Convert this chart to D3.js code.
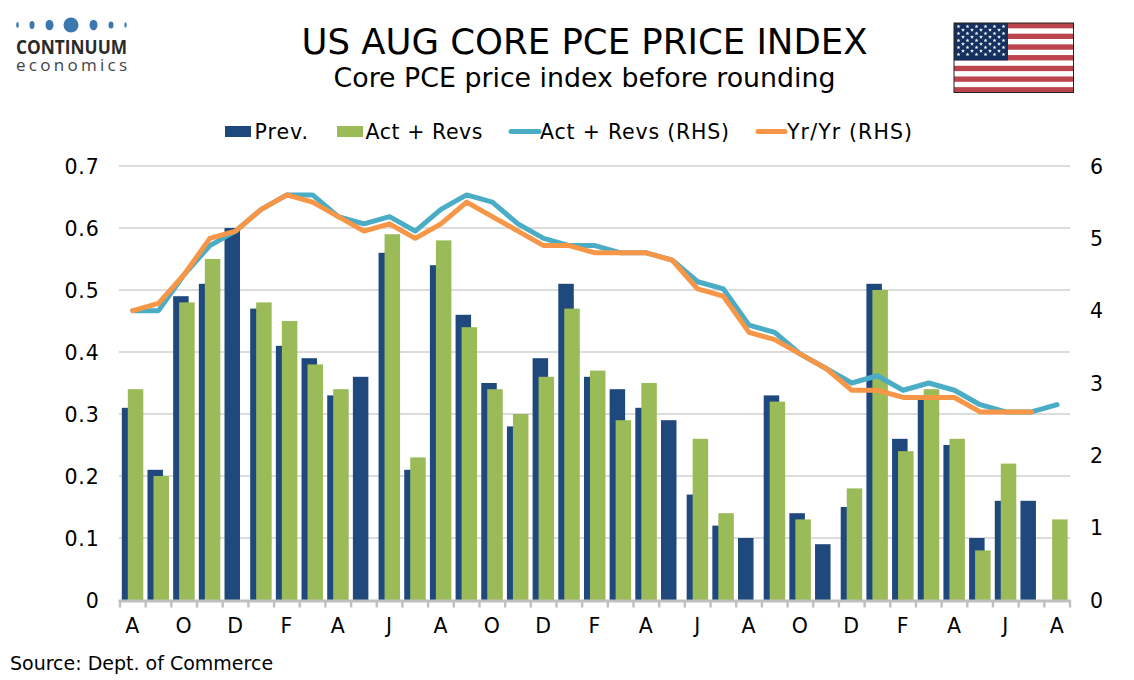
<!DOCTYPE html>
<html><head><meta charset="utf-8">
<script src="https://cdn.jsdelivr.net/npm/d3@7/dist/d3.min.js"></script>
<style>html,body{margin:0;padding:0;background:#fff}svg{display:block}text{font-family:"DejaVu Sans",sans-serif;fill:#000}</style>
</head><body><svg id="c" width="1134" height="680"></svg>
<script>
const months=["A","S","O","N","D","J","F","M","A","M","J","J","A","S","O","N","D","J","F","M","A","M","J","J","A","S","O","N","D","J","F","M","A","M","J","J","A"];
const prev=[.31,.21,.49,.51,.60,.47,.41,.39,.33,.36,.56,.21,.54,.46,.35,.28,.39,.51,.36,.34,.31,.29,.17,.12,.10,.33,.14,.09,.15,.51,.26,.33,.25,.10,.16,.16,null];
const act=[.34,.20,.48,.55,null,.48,.45,.38,.34,null,.59,.23,.58,.44,.34,.30,.36,.47,.37,.29,.35,null,.26,.14,null,.32,.13,null,.18,.50,.24,.34,.26,.08,.22,null,.13];
const actRhs=[4.0,4.0,4.5,4.9,5.1,5.4,5.6,5.6,5.3,5.2,5.3,5.1,5.4,5.6,5.5,5.2,5.0,4.9,4.9,4.8,4.8,4.7,4.4,4.3,3.8,3.7,3.4,3.2,3.0,3.1,2.9,3.0,2.9,2.7,2.6,2.6,2.7];
const yrRhs=[4.0,4.1,4.5,5.0,5.1,5.4,5.6,5.5,5.3,5.1,5.2,5.0,5.2,5.5,5.3,5.1,4.9,4.9,4.8,4.8,4.8,4.7,4.3,4.2,3.7,3.6,3.4,3.2,2.9,2.9,2.8,2.8,2.8,2.6,2.6,2.6,null];
const leftTicks=[0,.1,.2,.3,.4,.5,.6,.7];
const rightTicks=[0,1,2,3,4,5,6];
const legendNames=["Prev.","Act + Revs","Act + Revs (RHS)","Yr/Yr (RHS)"];
const logoDots=[[17.5,1.3,3],[32,2.5,4],[49.5,4,5.2],[71,7.5,7.5],[93.5,4,5.2],[111,2.5,3.5],[125.5,1.2,2.8]];

const NAVY="#1F497D",GREEN="#9BBB59",TEAL="#4BACC6",ORANGE="#F79646";
const svg=d3.select("#c");
const x0=120,x1=1070,yB=600,yT=166;
const x=d3.scaleBand().domain(d3.range(months.length)).range([x0,x1]);
const y=d3.scaleLinear().domain([0,.7]).range([yB,yT]);
const yR=d3.scaleLinear().domain([0,6]).range([yB,yT]);
const edge=d3.scaleLinear().domain([0,months.length]).range([x0,x1]);

// grid
svg.append("g").selectAll("line").data(leftTicks.slice(1)).join("line")
 .attr("x1",x0-1).attr("x2",x1).attr("y1",d=>y(d)).attr("y2",d=>y(d)).attr("stroke","#d0d0d0").attr("stroke-width",1.3);

// bars
const bw=15.5;
svg.append("g").selectAll("rect").data(prev.map((v,i)=>({v,i})).filter(d=>d.v!=null)).join("rect")
 .attr("x",d=>x(d.i)+1.8).attr("width",bw).attr("y",d=>y(d.v)).attr("height",d=>yB-y(d.v)).attr("fill",NAVY);
svg.append("g").selectAll("rect").data(act.map((v,i)=>({v,i})).filter(d=>d.v!=null)).join("rect")
 .attr("x",d=>x(d.i)+7.8).attr("width",bw).attr("y",d=>y(d.v)).attr("height",d=>yB-y(d.v)).attr("fill",GREEN);

// lines
const line=d3.line().defined(d=>d!=null).x((d,i)=>x(i)+x.bandwidth()/2).y(d=>yR(d));
svg.append("path").attr("d",line(actRhs)).attr("fill","none").attr("stroke",TEAL).attr("stroke-width",5).attr("stroke-linecap","round").attr("stroke-linejoin","round");
svg.append("path").attr("d",line(yrRhs)).attr("fill","none").attr("stroke",ORANGE).attr("stroke-width",5).attr("stroke-linecap","round").attr("stroke-linejoin","round");

// x axis
svg.append("line").attr("x1",x0-1.5).attr("x2",x1+0.5).attr("y1",yB+1).attr("y2",yB+1).attr("stroke","#bfbfbf").attr("stroke-width",2.8);
svg.append("g").selectAll("line").data(d3.range(months.length+1)).join("line")
 .attr("x1",d=>edge(d)).attr("x2",d=>edge(d)).attr("y1",yB).attr("y2",yB+7.5).attr("stroke","#bfbfbf").attr("stroke-width",2.4);
svg.append("g").selectAll("text").data(months.map((m,i)=>({m,i})).filter(d=>d.i%2==0)).join("text")
 .attr("x",d=>x(d.i)+x.bandwidth()/2-0.5).attr("y",632.5).attr("text-anchor","middle").attr("font-size",20.5).text(d=>d.m);

// y axes
const fmt=d=>d===0?"0":d3.format(".1f")(d);
svg.append("g").selectAll("text").data(leftTicks).join("text").attr("x",99.5).attr("y",d=>y(d)+7.5).attr("text-anchor","end").attr("font-size",20.5).attr("letter-spacing",.8).text(fmt);
svg.append("g").selectAll("text").data(rightTicks).join("text").attr("x",1096.5).attr("y",d=>yR(d)+7.5).attr("text-anchor","middle").attr("font-size",20.5).text(d=>d);

// titles
svg.append("text").attr("x",584.5).attr("y",54).attr("text-anchor","middle").attr("font-size",35.5).text("US AUG CORE PCE PRICE INDEX");
svg.append("text").attr("x",584.5).attr("y",87).attr("text-anchor","middle").attr("font-size",26.8).text("Core PCE price index before rounding");

// legend
const lg=svg.append("g");
lg.append("rect").attr("x",225).attr("y",126).attr("width",26).attr("height",11).attr("fill",NAVY);
lg.append("rect").attr("x",337).attr("y",126).attr("width",26).attr("height",11).attr("fill",GREEN);
lg.append("line").attr("x1",511).attr("x2",539).attr("y1",131.5).attr("y2",131.5).attr("stroke",TEAL).attr("stroke-width",5).attr("stroke-linecap","round");
lg.append("line").attr("x1",758).attr("x2",785).attr("y1",131.5).attr("y2",131.5).attr("stroke",ORANGE).attr("stroke-width",5).attr("stroke-linecap","round");
const legTx=[254.5,365.5,540,787], legW=[53.5,117,189,125];
lg.selectAll("text").data(legendNames).join("text").attr("x",(d,i)=>legTx[i]).attr("y",139).attr("font-size",20.5).attr("textLength",(d,i)=>legW[i]).text(d=>d);

// source
svg.append("text").attr("x",10).attr("y",670).attr("font-size",19).text("Source: Dept. of Commerce");

// logo
const lo=svg.append("g");
lo.selectAll("ellipse").data(logoDots).join("ellipse").attr("cx",d=>d[0]).attr("cy",25).attr("rx",d=>d[1]).attr("ry",d=>d[2]).attr("fill","#3B78B0");
lo.append("text").attr("x",16).attr("y",53.5).attr("style","font-family:'Open Sans',sans-serif;font-weight:700;fill:#2a2a2a").attr("font-size",19).attr("textLength",111).attr("lengthAdjust","spacingAndGlyphs").text("CONTINUUM");
lo.append("text").attr("x",16).attr("y",70.5).attr("style","font-family:'Open Sans',sans-serif;fill:#444").attr("font-size",17).attr("textLength",111).text("economics");

// flag
const fx=954,fy=23,fw=119.5,fh=69.5,st=fh/13;
const fl=svg.append("g");
fl.append("rect").attr("x",fx).attr("y",fy).attr("width",fw).attr("height",fh).attr("fill","#fff");
fl.selectAll("rect.s").data(d3.range(0,13,2)).join("rect").attr("class","s").attr("x",fx).attr("y",d=>fy+d*st).attr("width",fw).attr("height",st).attr("fill","#BC444C");
fl.append("rect").attr("x",fx).attr("y",fy).attr("width",54).attr("height",st*7).attr("fill","#14305F");
const stars=[];
for(let r=0;r<9;r++){const n=r%2?5:6;for(let c=0;c<n;c++)stars.push([fx+4.5+(r%2?4.5:0)+c*9,fy+3.5+r*3.5]);}
fl.selectAll("path").data(stars).join("path").attr("d",d3.symbol(d3.symbolStar,5)).attr("transform",d=>`translate(${d[0]},${d[1]})`).attr("fill","#fff");
fl.append("rect").attr("x",fx).attr("y",fy).attr("width",fw).attr("height",fh).attr("fill","none").attr("stroke","#222").attr("stroke-width",1);
</script></body></html>
